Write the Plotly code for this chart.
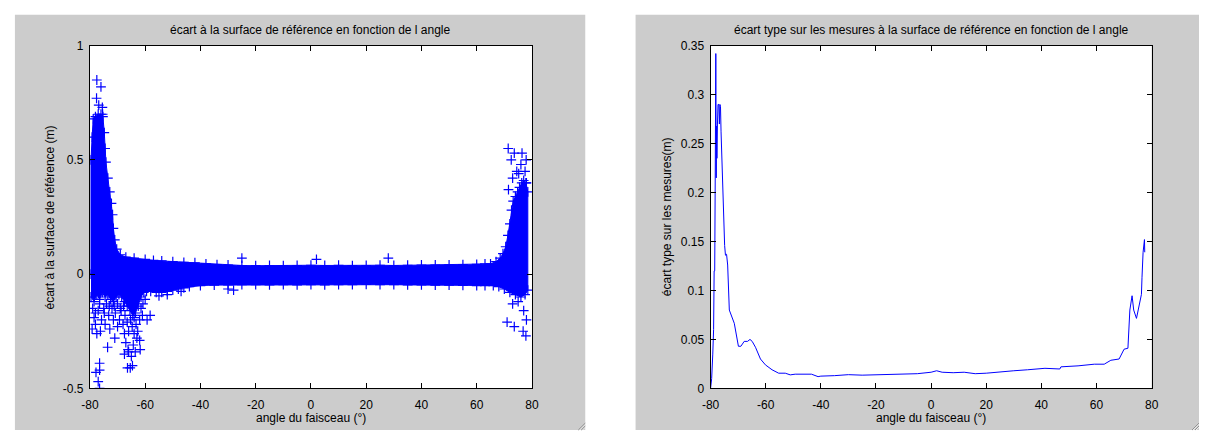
import plotly.graph_objects as go

# ---------------- data ----------------
# Left chart: dense cloud of "+" points, described by its upper/lower envelopes
env_haute_x = [-79.6, -79.6, -79.2, -78.8, -78.0, -77.0, -76.0, -75.3, -74.8, -74.5, -74.2, -73.5,
               -72.8, -72.2, -71.8, -71.5, -71.0, -70.3, -69.0, -67.0, -64.0, -60.0, -57.0, -54.0,
               -50.0, -46.0, -42.0, -38.0, -34.0, -30.0, -25.0, -20.0, -15.0, -10.0, -5.0,
               0.0, 5.0, 10.0, 15.0, 20.0, 25.0, 30.0, 35.0, 40.0, 45.0, 50.0, 55.0, 60.0, 63.0,
               65.0, 67.0, 68.5, 69.5, 70.5, 71.3, 72.0, 72.6, 73.2, 74.0, 74.8, 75.5, 76.3, 77.0,
               77.8, 78.5]
env_haute_y = [0.0, 0.50, 0.60, 0.68, 0.69, 0.70, 0.70, 0.69, 0.62, 0.55, 0.49, 0.42,
               0.36, 0.31, 0.26, 0.20, 0.15, 0.11, 0.085, 0.075, 0.07, 0.065, 0.06, 0.058,
               0.055, 0.052, 0.05, 0.045, 0.042, 0.04, 0.038, 0.037, 0.038, 0.037, 0.038,
               0.039, 0.038, 0.039, 0.037, 0.038, 0.039, 0.038, 0.039, 0.04, 0.04, 0.041, 0.042,
               0.043, 0.045, 0.045, 0.055, 0.07, 0.09, 0.12, 0.17, 0.22, 0.28, 0.32, 0.34, 0.36,
               0.38, 0.40, 0.41, 0.40, 0.36]
env_basse_x = [-79.6, -78.5, -77.5, -76.5, -75.5, -74.5, -73.5, -72.5, -71.5, -70.5, -69.5, -68.5,
               -67.5, -66.5, -65.5, -64.5, -63.5, -62.5, -61.5, -60.5, -59.5, -58.0, -56.0, -54.0,
               -52.0, -50.0, -48.0, -46.0, -44.0, -40.0, -35.0, -30.0, -25.0, -20.0, -15.0, -10.0,
               -5.0, 0.0, 5.0, 10.0, 15.0, 20.0, 25.0, 30.0, 35.0, 40.0, 45.0, 50.0, 55.0, 60.0,
               63.0, 66.0, 68.0, 70.0, 72.0, 74.0, 76.0, 77.5, 78.5]
env_basse_y = [-0.10, -0.12, -0.09, -0.11, -0.08, -0.10, -0.09, -0.11, -0.12, -0.10, -0.09, -0.10,
               -0.12, -0.14, -0.16, -0.18, -0.17, -0.14, -0.10, -0.08, -0.075, -0.075, -0.08, -0.08,
               -0.075, -0.07, -0.065, -0.06, -0.055, -0.05, -0.048, -0.047, -0.046, -0.046, -0.047,
               -0.046, -0.047, -0.046, -0.047, -0.046, -0.046, -0.045, -0.046, -0.046, -0.047,
               -0.047, -0.048, -0.048, -0.049, -0.05, -0.05, -0.05, -0.055, -0.065, -0.08, -0.09,
               -0.10, -0.09, -0.07]
# Left chart: isolated "+" points outside the dense cloud
isoles_x = [-77.5, -76.0, -77.6, -76.8, -75.5, -75.4,
            -77.5, -73.6, -67.0, -65.4, -63.6, -61.8, -59.3, -58.2, -76.5, -76.5, -77.0, -76.5,
            -77.8, -70.0, -71.0, -67.5, -64.0, -62.0, -61.0,
            -79.0, -78.5, -78.0, -77.0, -76.5, -75.8, -75.0, -74.5, -74.0, -73.2, -72.8, -72.0,
            -71.5, -70.8, -70.0, -69.3, -68.7, -68.0, -67.3, -66.5, -66.0, -65.3, -64.7, -64.0,
            -63.3, -62.7, -62.0, -61.5, -60.8, -60.0, -66.2, -65.0, -64.3, -63.0, -67.5, -66.4,
            -64.6, -66.0, -79.2, -78.0, -76.2, -74.8, -73.0, -71.2, -69.0, -67.8,
            -55.0, -52.0, -47.0, -30.0, -25.0, 28.0, -28.0, 2.0,
            71.4, 73.6, 76.4, 76.0, 72.5, 74.5, 77.5, 73.0, 78.0, 71.5, 75.2, 77.9,
            73.0, 71.0, 73.6, 76.8, 77.0, 77.8, 75.0, 78.0]
isoles_y = [0.85, 0.82, 0.77, 0.74, 0.73, 0.70,
            -0.26, -0.32, -0.30, -0.41, -0.34, -0.33, -0.20, -0.18, -0.39, -0.42, -0.47, -0.50,
            -0.43, -0.23, -0.28, -0.26, -0.26, -0.29, -0.18,
            -0.15, -0.19, -0.22, -0.16, -0.13, -0.20, -0.15, -0.22, -0.13, -0.18, -0.24, -0.15,
            -0.20, -0.17, -0.13, -0.20, -0.16, -0.22, -0.18, -0.21, -0.25, -0.20, -0.23, -0.19,
            -0.22, -0.25, -0.20, -0.15, -0.13, -0.11, -0.33, -0.36, -0.31, -0.28, -0.35, -0.41,
            -0.40, -0.34, -0.24, -0.17, -0.25, -0.17, -0.14, -0.14, -0.15, -0.14,
            -0.095, -0.09, -0.075, -0.065, 0.07, 0.07, -0.07, 0.065,
            0.55, 0.53, 0.53, 0.48, 0.50, 0.45, 0.45, 0.42, 0.40, 0.37, 0.44, 0.50,
            -0.13, -0.21, -0.23, -0.25, -0.16, -0.27, -0.12, -0.20]

# Right chart: standard deviation vs beam angle
angle_et = [-80.0, -79.6, -79.2, -78.9, -78.7, -78.5, -78.3, -78.1, -77.95, -77.85, -77.7, -77.5,
            -77.3, -77.0, -76.8, -76.6, -76.4, -76.2, -75.8, -75.3, -74.9, -74.6, -74.2, -73.8,
            -73.2, -71.4, -70.8, -69.9, -69.0, -67.8, -66.6, -65.7, -64.9, -63.7, -61.9, -60.1,
            -57.7, -55.3, -52.9, -51.1, -49.3, -43.4, -41.0, -40.0, -35.0, -30.0, -25.0, -20.0,
            -15.0, -10.0, -5.0, 0.0, 2.0, 4.0, 8.0, 12.0, 16.0, 20.0, 25.0, 30.0, 35.0, 41.3,
            46.7, 47.1, 53.3, 59.2, 62.8, 65.2, 68.2, 70.0, 71.4, 71.8, 72.1, 72.9, 73.5, 74.5,
            75.3, 76.3, 76.5, 76.9, 77.4, 77.5]
ecart_type = [0.0, 0.01, 0.035, 0.06, 0.12, 0.12, 0.22, 0.342, 0.215, 0.268, 0.235, 0.27,
              0.29, 0.29, 0.27, 0.29, 0.288, 0.262, 0.218, 0.175, 0.146, 0.136, 0.137, 0.126,
              0.080, 0.0665, 0.058, 0.043, 0.043, 0.048, 0.048, 0.050, 0.048, 0.042, 0.030, 0.024,
              0.019, 0.0155, 0.0155, 0.0138, 0.0145, 0.0145, 0.012, 0.0125, 0.013, 0.014, 0.0135,
              0.014, 0.0145, 0.0148, 0.015, 0.0165, 0.018, 0.0165, 0.016, 0.0165, 0.015, 0.0155,
              0.017, 0.018, 0.019, 0.0205, 0.0198, 0.022, 0.023, 0.0247, 0.0247, 0.0287, 0.030,
              0.040, 0.041, 0.057, 0.080, 0.0946, 0.080, 0.0715, 0.083, 0.096, 0.113, 0.139,
              0.152, 0.139]

x_ticks = [-80, -60, -40, -20, 0, 20, 40, 60, 80]
x_ticktext = ["-80", "-60", "-40", "-20", "0", "20", "40", "60", "80"]
y1_ticks = [-0.5, 0, 0.5, 1]
y1_ticktext = ["-0.5", "0", "0.5", "1"]
y2_ticks = [0, 0.05, 0.1, 0.15, 0.2, 0.25, 0.3, 0.35]
y2_ticktext = ["0", "0.05", "0.1", "0.15", "0.2", "0.25", "0.3", "0.35"]

titre_gauche = "écart à la surface de référence en fonction de l angle"
titre_droite = "écart type sur les mesures à la surface de référence en fonction de l angle"
label_x = "angle du faisceau (°)"
label_y_gauche = "écart à la surface de référence (m)"
label_y_droite = "écart type sur les mesures(m)"

# ---------------- figure ----------------
W, H = 1206, 437
BLUE = "#0000ff"
GRAY = "#cccccc"
FONT = "Liberation Sans, Arial, Helvetica, sans-serif"


def fx(p):
    return p / W


def fy(p):
    return 1 - p / H


L1, R1, L2, R2, T, B = 82, 530, 711, 1158, 40, 394

fig = go.Figure()

poly_x = env_haute_x + env_basse_x[::-1]
poly_y = env_haute_y + env_basse_y[::-1]
fig.add_trace(go.Scatter(x=poly_x, y=poly_y, mode="lines", fill="toself",
                         line=dict(color=BLUE, width=1), fillcolor=BLUE,
                         hoverinfo="skip", showlegend=False, xaxis="x", yaxis="y"))
plus = dict(symbol="cross-thin", size=7, color=BLUE, line=dict(width=1.2, color=BLUE))
fig.add_trace(go.Scatter(x=env_haute_x + env_basse_x, y=env_haute_y + env_basse_y,
                         mode="markers", marker=plus, showlegend=False, xaxis="x", yaxis="y"))
fig.add_trace(go.Scatter(x=isoles_x, y=isoles_y, mode="markers", marker=plus,
                         showlegend=False, xaxis="x", yaxis="y"))
fig.add_trace(go.Scatter(x=angle_et, y=ecart_type, mode="lines",
                         line=dict(color=BLUE, width=1), showlegend=False,
                         xaxis="x2", yaxis="y2"))

axis_common = dict(showline=True, linecolor="black", linewidth=1, mirror="ticks",
                   ticks="inside", ticklen=5, tickcolor="black", showgrid=False,
                   zeroline=False, tickfont=dict(family=FONT, size=12, color="black"),
                   fixedrange=True)

fig.update_layout(
    width=W, height=H,
    margin=dict(l=0, r=0, t=0, b=0),
    paper_bgcolor="white", plot_bgcolor="white",
    showlegend=False,
    xaxis=dict(domain=[fx(L1), fx(R1)], range=[-80, 80], anchor="y",
               tickvals=x_ticks, ticktext=x_ticktext, ticklabelstandoff=5, **axis_common),
    yaxis=dict(domain=[fy(B), fy(T)], range=[-0.5, 1], anchor="x",
               tickvals=y1_ticks, ticktext=y1_ticktext, ticklabelstandoff=3, **axis_common),
    xaxis2=dict(domain=[fx(L2), fx(R2)], range=[-80, 80], anchor="y2",
                tickvals=x_ticks, ticktext=x_ticktext, ticklabelstandoff=5, **axis_common),
    yaxis2=dict(domain=[fy(B), fy(T)], range=[0, 0.35], anchor="x2",
                tickvals=y2_ticks, ticktext=y2_ticktext, ticklabelstandoff=3, **axis_common),
)

shapes = [
    dict(type="rect", xref="paper", yref="paper", x0=fx(6), x1=fx(584), y0=0, y1=fy(8),
         fillcolor=GRAY, line=dict(width=0), layer="below"),
    dict(type="rect", xref="paper", yref="paper", x0=fx(635), x1=1, y0=0, y1=fy(8),
         fillcolor=GRAY, line=dict(width=0), layer="below"),
    dict(type="rect", xref="paper", yref="paper", x0=fx(L1), x1=fx(R1), y0=fy(B), y1=fy(T),
         fillcolor="white", line=dict(width=0), layer="below"),
    dict(type="rect", xref="paper", yref="paper", x0=fx(L2), x1=fx(R2), y0=fy(B), y1=fy(T),
         fillcolor="white", line=dict(width=0), layer="below"),
]
# resize grips
for right in (584, 1206):
    for k, col in ((3, "#ffffff"), (4, "#888888"), (6, "#ffffff"), (7, "#888888")):
        shapes.append(dict(type="line", xref="paper", yref="paper",
                           x0=fx(right - k), y0=fy(437), x1=fx(right), y1=fy(437 - k),
                           line=dict(color=col, width=1), layer="below"))
fig.update_layout(shapes=shapes)

ann_font = dict(family=FONT, size=12, color="black")
annotations = [
    dict(text=titre_gauche, x=fx((L1 + R1) / 2), y=fy(24)),
    dict(text=titre_droite, x=fx((L2 + R2) / 2), y=fy(24)),
    dict(text=label_x, x=fx((L1 + R1) / 2), y=fy(425)),
    dict(text=label_x, x=fx((L2 + R2) / 2), y=fy(425)),
    dict(text=label_y_gauche, x=fx(42), y=fy((T + B) / 2), textangle=-90),
    dict(text=label_y_droite, x=fx(667), y=fy((T + B) / 2), textangle=-90),
]
for a in annotations:
    a.update(xref="paper", yref="paper", showarrow=False, font=ann_font,
             xanchor="center", yanchor="middle")
fig.update_layout(annotations=annotations)

fig.write_html("out.html",
               config={"displayModeBar": False, "staticPlot": True},
               post_script="document.body.style.margin='0px';"
                           "document.body.style.overflow='hidden';")
